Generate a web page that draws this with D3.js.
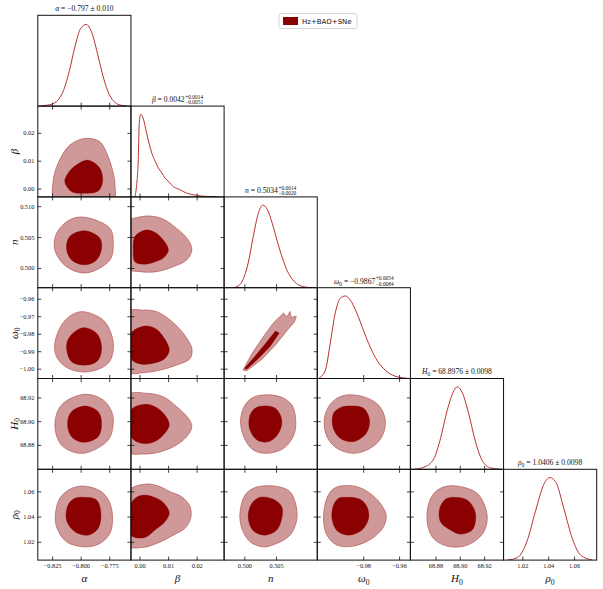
<!DOCTYPE html>
<html><head><meta charset="utf-8">
<script src="https://cdn.jsdelivr.net/npm/d3@7"></script>
<style>body{margin:0;background:#fff}</style>
</head><body>
<svg id="c" width="603" height="589"></svg>
<script>
// ---------------- DATA ----------------
const paramSymbols = ["α","β","n","ω","H","ρ"];
const paramSubs    = ["","","","0","0","0"];
const domains = [[-0.8375,-0.756],[-0.003,0.0296],[0.4968,0.5115],[-1.0056,-0.9537],[68.8594,68.936],[1.0055,1.0775]];
const xTicks = [[-0.825,-0.800,-0.775],[0.00,0.01,0.02],[0.500,0.505],[-0.98,-0.96],[68.88,68.90,68.92],[1.02,1.04,1.06]];
const yTicks = [[],[0.00,0.01,0.02],[0.500,0.505,0.510],[-1.00,-0.99,-0.98,-0.97,-0.96],[68.88,68.90,68.92],[1.02,1.04,1.06]];
const tickDecimals = [3,2,3,2,2,2];
const titleValues = ["−0.797","0.0042","0.5034","−0.9867","68.8976","1.0406"];
const titlePM     = ["0.010",null,null,null,"0.0098","0.0098"];
const titleUp     = [null,"+0.0014","+0.0014","+0.0054",null,null];
const titleLo     = [null,"−0.0051","−0.0020","−0.0084",null,null];
const legendLabel = "Hz+BAO+SNe";

// 1D marginals (parameter value, normalised density)
const alphaX = [-0.835,-0.830,-0.825,-0.820,-0.815,-0.810,-0.805,-0.800,-0.795,-0.790,-0.785,-0.780,-0.775,-0.770,-0.765,-0.760];
const alphaP = [0.003,0.01,0.025,0.07,0.19,0.42,0.72,0.94,0.99,0.88,0.62,0.34,0.14,0.045,0.012,0.003];
const betaX = [-0.0016,-0.0010,-0.0004,-0.0001,0.0004,0.0013,0.0025,0.0034,0.0043,0.0055,0.0066,0.0078,0.0089,0.0103,0.0118,0.0140,0.0165,0.0190,0.0212,0.0240,0.0270];
const betaP = [0,0.15,0.49,0.89,1.0,0.95,0.77,0.64,0.53,0.43,0.35,0.29,0.23,0.18,0.125,0.09,0.045,0.025,0.012,0.006,0.004];
const nX = [0.4982,0.4990,0.4998,0.5006,0.5014,0.5022,0.5029,0.5036,0.5044,0.5052,0.5060,0.5068,0.5076,0.5084,0.5092,0.5100,0.5108];
const nP = [0,0.02,0.1,0.3,0.62,0.9,1.0,0.95,0.78,0.56,0.36,0.2,0.1,0.04,0.015,0.004,0];
const omegaX = [-1.0049,-1.0011,-0.9984,-0.9956,-0.9928,-0.9900,-0.9872,-0.9835,-0.9798,-0.9761,-0.9723,-0.9677,-0.9622,-0.9556];
const omegaP = [0,0.10,0.42,0.79,0.97,1.0,0.95,0.79,0.58,0.38,0.22,0.10,0.028,0.004];
const H0X = [68.8621,68.8704,68.8786,68.8841,68.8896,68.8951,68.8979,68.9020,68.9074,68.9130,68.9185,68.9253,68.9336];
const H0P = [0,0.025,0.125,0.37,0.71,0.95,1.0,0.93,0.67,0.33,0.105,0.017,0];
const rho0X = [1.0084,1.0161,1.0238,1.0303,1.0367,1.0413,1.0457,1.0522,1.0587,1.0651,1.0742];
const rho0P = [0,0.03,0.236,0.60,0.92,1.0,0.95,0.62,0.26,0.06,0];

// 2D contours: [x-parameter value, y-parameter value] vertices (outer = 95%, inner = 68%)
const beta_alpha_outer = [[-0.7963,0.0180],[-0.7832,0.0168],[-0.7759,0.0114],[-0.7715,0.0055],[-0.7700,0.0013],[-0.7715,-0.0040],[-0.8226,-0.0040],[-0.8241,0.0025],[-0.8197,0.0091],[-0.8095,0.0156]];
const beta_alpha_inner = [[-0.7934,0.0102],[-0.7832,0.0073],[-0.7808,0.0025],[-0.7847,-0.0009],[-0.7963,-0.0017],[-0.8080,-0.0011],[-0.8139,0.0025],[-0.8110,0.0055],[-0.8036,0.0085]];
const n_alpha_outer = [[-0.7963,0.5082],[-0.7744,0.5064],[-0.7715,0.5040],[-0.7744,0.5013],[-0.7948,0.4992],[-0.8124,0.5002],[-0.8226,0.5029],[-0.8211,0.5056],[-0.8095,0.5078]];
const n_alpha_inner = [[-0.7963,0.5060],[-0.7832,0.5048],[-0.7817,0.5032],[-0.7861,0.5013],[-0.7963,0.5005],[-0.8080,0.5013],[-0.8124,0.5032],[-0.8095,0.5051]];
const omega_alpha_outer = [[-0.7978,-0.9674],[-0.7803,-0.9722],[-0.7729,-0.9808],[-0.7715,-0.9893],[-0.7759,-0.9969],[-0.7934,-1.0018],[-0.8110,-0.9998],[-0.8211,-0.9932],[-0.8226,-0.9855],[-0.8167,-0.9750],[-0.8080,-0.9693]];
const omega_alpha_inner = [[-0.7978,-0.9766],[-0.7861,-0.9798],[-0.7817,-0.9875],[-0.7847,-0.9951],[-0.7948,-0.9979],[-0.8080,-0.9960],[-0.8124,-0.9875],[-0.8095,-0.9817]];
const H0_alpha_outer = [[-0.7963,68.9227],[-0.7803,68.9179],[-0.7729,68.9080],[-0.7715,68.8982],[-0.7759,68.8841],[-0.7978,68.8729],[-0.8153,68.8784],[-0.8217,68.8898],[-0.8217,68.9038],[-0.8153,68.9151]];
const H0_alpha_inner = [[-0.7963,68.9128],[-0.7847,68.9080],[-0.7817,68.8982],[-0.7847,68.8869],[-0.7978,68.8822],[-0.8080,68.8869],[-0.8115,68.8982],[-0.8080,68.9080]];
const rho0_alpha_outer = [[-0.7978,1.0642],[-0.7817,1.0597],[-0.7744,1.0505],[-0.7721,1.0386],[-0.7744,1.0267],[-0.7832,1.0187],[-0.7963,1.0160],[-0.8124,1.0200],[-0.8211,1.0319],[-0.8220,1.0426],[-0.8182,1.0545],[-0.8095,1.0616]];
const rho0_alpha_inner = [[-0.7963,1.0553],[-0.7861,1.0531],[-0.7823,1.0426],[-0.7847,1.0307],[-0.7934,1.0253],[-0.8051,1.0280],[-0.8124,1.0372],[-0.8110,1.0492],[-0.8051,1.0545]];
const n_beta_outer = [[0.0037,0.5084],[0.0083,0.5079],[0.0130,0.5064],[0.0171,0.5045],[0.0183,0.5029],[0.0165,0.5013],[0.0118,0.5002],[0.0060,0.4994],[0.0002,0.4994],[-0.0040,0.4999],[-0.0040,0.5075],[-0.0004,0.5082]];
const n_beta_inner = [[0.0019,0.5061],[0.0048,0.5059],[0.0078,0.5048],[0.0101,0.5029],[0.0083,0.5016],[0.0048,0.5009],[0.0013,0.5006],[-0.0016,0.5010],[-0.0022,0.5029],[-0.0016,0.5051]];
const omega_beta_outer = [[0.0013,-0.9665],[0.0060,-0.9674],[0.0107,-0.9722],[0.0153,-0.9798],[0.0183,-0.9884],[0.0177,-0.9941],[0.0130,-0.9979],[0.0072,-1.0008],[0.0013,-1.0023],[-0.0040,-1.0018],[-0.0040,-0.9674]];
const omega_beta_inner = [[0.0019,-0.9756],[0.0054,-0.9769],[0.0083,-0.9817],[0.0104,-0.9893],[0.0089,-0.9941],[0.0048,-0.9969],[0.0002,-0.9973],[-0.0030,-0.9941],[-0.0030,-0.9798]];
const H0_beta_outer = [[0.0025,68.9235],[0.0083,68.9206],[0.0130,68.9122],[0.0171,68.9024],[0.0183,68.8953],[0.0165,68.8869],[0.0118,68.8784],[0.0060,68.8734],[0.0013,68.8723],[-0.0040,68.8742],[-0.0040,68.9221]];
const H0_beta_inner = [[0.0019,68.9142],[0.0054,68.9122],[0.0089,68.9052],[0.0104,68.8968],[0.0083,68.8883],[0.0048,68.8822],[0.0008,68.8813],[-0.0030,68.8869],[-0.0030,68.9094]];
const rho0_beta_outer = [[0.0025,1.0658],[0.0072,1.0637],[0.0107,1.0597],[0.0148,1.0557],[0.0177,1.0478],[0.0179,1.0386],[0.0159,1.0307],[0.0118,1.0253],[0.0060,1.0187],[0.0013,1.0156],[-0.0040,1.0170],[-0.0040,1.0600]];
const rho0_beta_inner = [[0.0019,1.0571],[0.0072,1.0531],[0.0095,1.0478],[0.0104,1.0426],[0.0089,1.0359],[0.0054,1.0293],[0.0019,1.0235],[-0.0030,1.0253],[-0.0030,1.0500],[-0.0010,1.0553]];
const omega_n_outer = [[0.4998,-1.0008],[0.5012,-0.9913],[0.5029,-0.9822],[0.5045,-0.9742],[0.5056,-0.9702],[0.5062,-0.9682],[0.5067,-0.9705],[0.5072,-0.9673],[0.5074,-0.9708],[0.5082,-0.9699],[0.5079,-0.9733],[0.5068,-0.9779],[0.5049,-0.9865],[0.5028,-0.9945],[0.5004,-1.0011]];
const omega_n_inner = [[0.5000,-0.9999],[0.5017,-0.9928],[0.5034,-0.9853],[0.5049,-0.9785],[0.5055,-0.9796],[0.5041,-0.9871],[0.5023,-0.9939],[0.5004,-1.0002]];
const H0_n_outer = [[0.5030,68.9221],[0.5057,68.9206],[0.5075,68.9136],[0.5081,68.9010],[0.5078,68.8883],[0.5062,68.8771],[0.5036,68.8729],[0.5014,68.8757],[0.4999,68.8869],[0.4994,68.9010],[0.5001,68.9136],[0.5014,68.9201]];
const H0_n_inner = [[0.5030,68.9128],[0.5049,68.9109],[0.5059,68.9010],[0.5054,68.8898],[0.5038,68.8827],[0.5020,68.8841],[0.5008,68.8940],[0.5009,68.9052],[0.5017,68.9109]];
const rho0_n_outer = [[0.5028,1.0642],[0.5054,1.0637],[0.5072,1.0597],[0.5082,1.0478],[0.5082,1.0359],[0.5072,1.0253],[0.5051,1.0187],[0.5030,1.0160],[0.5009,1.0200],[0.4996,1.0307],[0.4993,1.0426],[0.5001,1.0571],[0.5014,1.0624]];
const rho0_n_inner = [[0.5025,1.0553],[0.5046,1.0537],[0.5059,1.0478],[0.5059,1.0386],[0.5051,1.0293],[0.5033,1.0253],[0.5014,1.0288],[0.5006,1.0399],[0.5012,1.0505]];
const H0_omega_outer = [[-0.9891,68.9221],[-0.9798,68.9206],[-0.9715,68.9136],[-0.9677,68.9010],[-0.9696,68.8869],[-0.9761,68.8771],[-0.9854,68.8729],[-0.9946,68.8771],[-1.0002,68.8869],[-1.0017,68.9010],[-0.9993,68.9122],[-0.9946,68.9193]];
const H0_omega_inner = [[-0.9872,68.9128],[-0.9798,68.9109],[-0.9765,68.9010],[-0.9783,68.8898],[-0.9854,68.8827],[-0.9928,68.8855],[-0.9969,68.8953],[-0.9965,68.9066],[-0.9928,68.9114]];
const rho0_omega_outer = [[-0.9928,1.0642],[-0.9835,1.0637],[-0.9761,1.0584],[-0.9705,1.0505],[-0.9672,1.0412],[-0.9687,1.0319],[-0.9751,1.0227],[-0.9854,1.0166],[-0.9946,1.0174],[-1.0002,1.0253],[-1.0021,1.0372],[-1.0006,1.0531],[-0.9974,1.0611]];
const rho0_omega_inner = [[-0.9891,1.0553],[-0.9817,1.0537],[-0.9779,1.0478],[-0.9770,1.0386],[-0.9807,1.0293],[-0.9882,1.0253],[-0.9946,1.0288],[-0.9974,1.0386],[-0.9965,1.0492],[-0.9937,1.0545]];
const rho0_H0_outer = [[68.8896,1.0642],[68.9033,1.0632],[68.9144,1.0584],[68.9198,1.0505],[68.9226,1.0386],[68.9198,1.0280],[68.9116,1.0200],[68.9006,1.0160],[68.8868,1.0174],[68.8773,1.0240],[68.8732,1.0359],[68.8745,1.0505],[68.8800,1.0597]];
const rho0_H0_inner = [[68.8951,1.0553],[68.9061,1.0531],[68.9121,1.0452],[68.9130,1.0372],[68.9102,1.0293],[68.9006,1.0261],[68.8924,1.0293],[68.8841,1.0359],[68.8835,1.0465],[68.8882,1.0537]];

// ---------------- TABLES BUILT FROM DATA ----------------
const marginals = [[alphaX,alphaP],[betaX,betaP],[nX,nP],[omegaX,omegaP],[H0X,H0P],[rho0X,rho0P]];
const contours = [
  [0,1,beta_alpha_outer,beta_alpha_inner],[0,2,n_alpha_outer,n_alpha_inner],[0,3,omega_alpha_outer,omega_alpha_inner],
  [0,4,H0_alpha_outer,H0_alpha_inner],[0,5,rho0_alpha_outer,rho0_alpha_inner],
  [1,2,n_beta_outer,n_beta_inner],[1,3,omega_beta_outer,omega_beta_inner],[1,4,H0_beta_outer,H0_beta_inner],[1,5,rho0_beta_outer,rho0_beta_inner],
  [2,3,omega_n_outer,omega_n_inner],[2,4,H0_n_outer,H0_n_inner],[2,5,rho0_n_outer,rho0_n_inner],
  [3,4,H0_omega_outer,H0_omega_inner],[3,5,rho0_omega_outer,rho0_omega_inner],
  [4,5,rho0_H0_outer,rho0_H0_inner]
];

// ---------------- LAYOUT / STYLE ----------------
const N = 6, gLeft = 37.8, gTop = 15.3, pw = 93.15, ph = 90.8;
const darkC = "#8b0000", lightC = "#d09999", edgeC = "#b45656", lineC = "#b83232";
const serif = "'Liberation Serif', 'DejaVu Serif', serif";
const svg = d3.select("#c");
const minus = s => s.replace(/-/g, "\u2212");

function xScale(c){ return d3.scaleLinear().domain(domains[c]).range([gLeft + c*pw, gLeft + (c+1)*pw]); }
function yScale(r){ return d3.scaleLinear().domain(domains[r]).range([gTop + (r+1)*ph, gTop + r*ph]); }

const defs = svg.append("defs");
for (let r = 0; r < N; r++) for (let c = 0; c <= r; c++) {
  defs.append("clipPath").attr("id", `clip${r}${c}`).append("rect")
    .attr("x", gLeft + c*pw).attr("y", gTop + r*ph).attr("width", pw).attr("height", ph);
}

// contours
contours.forEach(([c, r, outer, inner]) => {
  const xs = xScale(c), ys = yScale(r);
  const curve = (c === 2 && r === 3) ? d3.curveLinearClosed : d3.curveCatmullRomClosed.alpha(0.5);
  const line = d3.line().x(d => xs(d[0])).y(d => ys(d[1])).curve(curve);
  const g = svg.append("g").attr("clip-path", `url(#clip${r}${c})`);
  g.append("path").attr("d", line(outer)).attr("fill", lightC).attr("stroke", edgeC).attr("stroke-width", 0.7).attr("stroke-linejoin", "round");
  g.append("path").attr("d", line(inner)).attr("fill", darkC).attr("stroke", darkC).attr("stroke-width", 0.4).attr("stroke-linejoin", "round");
});

// marginals
marginals.forEach(([xv, pv], i) => {
  const xs = xScale(i);
  const ys = d3.scaleLinear().domain([0, 1.1]).range([gTop + (i+1)*ph, gTop + i*ph]);
  const line = d3.line().x((d, k) => xs(xv[k])).y(d => ys(d)).curve(d3.curveMonotoneX);
  svg.append("g").attr("clip-path", `url(#clip${i}${i})`)
    .append("path").attr("d", line(pv)).attr("fill", "none").attr("stroke", lineC).attr("stroke-width", 1);
});

// axes (ticks inward)
function styleAxis(g){
  g.select(".domain").remove();
  g.selectAll(".tick line").attr("stroke", "#111").attr("stroke-width", 0.8);
  g.selectAll("text").attr("font-family", serif).attr("font-size", 6.3).attr("fill", "#111");
}
for (let r = 0; r < N; r++) for (let c = 0; c <= r; c++) {
  const xs = xScale(c), x0 = gLeft + c*pw, x1 = x0 + pw, y0 = gTop + r*ph, y1 = y0 + ph;
  const fmtX = (r === N-1) ? (d => minus(d3.format(`.${tickDecimals[c]}f`)(d))) : (() => "");
  svg.append("g").attr("transform", `translate(0,${y1})`)
    .call(d3.axisBottom(xs).tickValues(xTicks[c]).tickSize(-3.5).tickPadding(3.2).tickFormat(fmtX)).call(styleAxis);
  if (r !== c) {
    const ys = yScale(r);
    svg.append("g").attr("transform", `translate(0,${y0})`)
      .call(d3.axisTop(xs).tickValues(xTicks[c]).tickSize(-3.5).tickFormat(() => "")).call(styleAxis);
    const fmtY = (c === 0) ? (d => minus(d3.format(`.${tickDecimals[r]}f`)(d))) : (() => "");
    svg.append("g").attr("transform", `translate(${x0},0)`)
      .call(d3.axisLeft(ys).tickValues(yTicks[r]).tickSize(-3.5).tickPadding(3.5).tickFormat(fmtY)).call(styleAxis);
    svg.append("g").attr("transform", `translate(${x1},0)`)
      .call(d3.axisRight(ys).tickValues(yTicks[r]).tickSize(-3.5).tickFormat(() => "")).call(styleAxis);
  }
  svg.append("rect").attr("x", x0).attr("y", y0).attr("width", pw).attr("height", ph)
    .attr("fill", "none").attr("stroke", "#111").attr("stroke-width", 1);
}

// axis labels
function addSymbol(textSel, i, size){
  textSel.append("tspan").attr("font-style", "italic").text(paramSymbols[i]);
  if (paramSubs[i]) textSel.append("tspan").attr("font-size", size*0.7).attr("dy", size*0.25).text(paramSubs[i]);
}
for (let i = 0; i < N; i++) {
  const t = svg.append("text").attr("x", gLeft + (i+0.5)*pw).attr("y", 582).attr("text-anchor", "middle")
    .attr("font-family", serif).attr("font-size", 11).attr("fill", "#111");
  addSymbol(t, i, 11);
  if (i > 0) {
    const cy = gTop + (i+0.5)*ph;
    const ty = svg.append("text").attr("transform", `translate(17.5,${cy}) rotate(-90)`).attr("text-anchor", "middle")
      .attr("font-family", serif).attr("font-size", 11).attr("fill", "#111");
    addSymbol(ty, i, 11);
  }
}

// titles
for (let i = 0; i < N; i++) {
  const fs = 7.6;
  const cx = gLeft + (i+0.5)*pw, base = gTop + i*ph - (titlePM[i] ? 4.5 : 4);
  const g = svg.append("g");
  const t = g.append("text").attr("x", 0).attr("y", 0).attr("font-family", serif).attr("font-size", fs).attr("fill", "#111");
  addSymbol(t, i, fs);
  t.append("tspan").attr("dy", paramSubs[i] ? -fs*0.25 : 0).text(" = " + titleValues[i] + (titlePM[i] ? " ± " + titlePM[i] : ""));
  let w = t.node().getComputedTextLength();
  if (titleUp[i]) {
    const sup = g.append("text").attr("x", w + 0.6).attr("y", -3.3).attr("font-family", serif).attr("font-size", 5.4).attr("fill", "#111").text(titleUp[i]);
    const sub = g.append("text").attr("x", w + 0.6).attr("y", 1.8).attr("font-family", serif).attr("font-size", 5.4).attr("fill", "#111").text(titleLo[i]);
    w += 0.6 + Math.max(sup.node().getComputedTextLength(), sub.node().getComputedTextLength());
  }
  g.attr("transform", `translate(${cx - w/2},${base})`);
}

// legend
const lg = svg.append("g");
lg.append("rect").attr("x", 279).attr("y", 13.5).attr("width", 78).attr("height", 15).attr("rx", 2)
  .attr("fill", "#fff").attr("stroke", "#cccccc").attr("stroke-width", 0.8);
lg.append("rect").attr("x", 283).attr("y", 17).attr("width", 15).attr("height", 8).attr("fill", darkC);
lg.append("text").attr("x", 302).attr("y", 23.6).attr("font-family", "'DejaVu Sans', sans-serif").attr("font-size", 7)
  .attr("fill", "#111").text(legendLabel);
</script>
</body></html>
